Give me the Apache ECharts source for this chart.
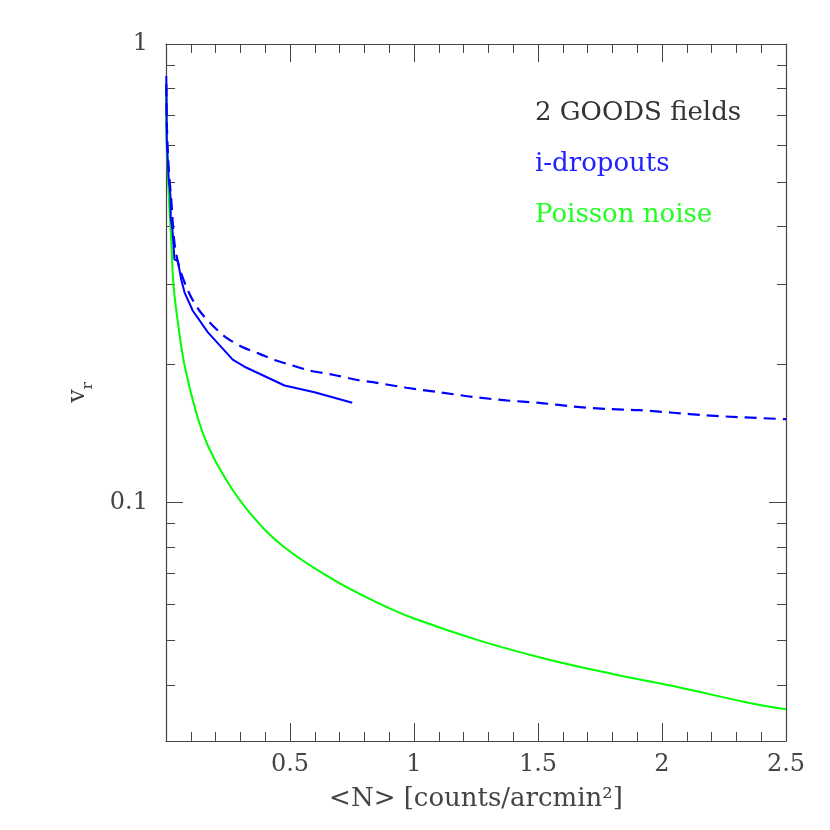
<!DOCTYPE html>
<html>
<head>
<meta charset="utf-8">
<script src="https://cdn.jsdelivr.net/npm/echarts@6/dist/echarts.min.js"></script>
<style>
  html, body { margin: 0; padding: 0; background: #fff; }
  #main { width: 830px; height: 830px; }
</style>
</head>
<body>
<div id="main"></div>
<script>
// Poisson noise curve
var poissonN = [0.001, 0.003, 0.014, 0.021, 0.030, 0.048, 0.075, 0.122, 0.169, 0.243, 0.337, 0.471, 0.673, 0.861, 0.995, 1.264, 1.533, 1.800, 2.071, 2.339, 2.5];
var poissonV = [0.797, 0.610, 0.436, 0.375, 0.299, 0.247, 0.199, 0.157, 0.133, 0.112, 0.0951, 0.0804, 0.0680, 0.0602, 0.0560, 0.0500, 0.0456, 0.0423, 0.0395, 0.0367, 0.0354];

// i-dropouts, solid line
var dropN = [0.001, 0.002, 0.003, 0.011, 0.018, 0.019, 0.027, 0.034, 0.048, 0.061, 0.075, 0.108, 0.169, 0.269, 0.323, 0.478, 0.599, 0.751];
var dropV = [0.852, 0.797, 0.620, 0.507, 0.466, 0.420, 0.388, 0.339, 0.336, 0.307, 0.287, 0.262, 0.235, 0.205, 0.197, 0.180, 0.174, 0.165];

// i-dropouts, dashed line
var dashN = [0.001, 0.004, 0.011, 0.021, 0.034, 0.054, 0.095, 0.135, 0.189, 0.243, 0.310, 0.377, 0.444, 0.511, 0.579, 0.673, 0.773, 0.834, 0.969, 1.103, 1.237, 1.372, 1.506, 1.640, 1.775, 1.909, 2.044, 2.178, 2.313, 2.5];
var dashV = [0.817, 0.652, 0.533, 0.459, 0.369, 0.325, 0.285, 0.262, 0.243, 0.229, 0.218, 0.211, 0.204, 0.199, 0.194, 0.190, 0.185, 0.183, 0.178, 0.174, 0.170, 0.167, 0.165, 0.162, 0.160, 0.159, 0.157, 0.155, 0.1535, 0.152];

// axis ticks
var xTickInterval = 0.5;
var yMajorTicks = [0.1, 1];
var yMinorTicks = [0.04, 0.05, 0.06, 0.07, 0.08, 0.09, 0.2, 0.3, 0.4, 0.5, 0.6, 0.7, 0.8, 0.9];
var yMin = 0.0302;
var yMax = 1;

var legendTexts = ['2 GOODS fields', 'i-dropouts', 'Poisson noise'];
var legendColors = ['#333333', '#2222ff', '#22ff22'];

function zip(xs, ys) {
    return xs.map(function(x, i) { return [x, ys[i]] })
}

var font = 'DejaVu Serif';
var axisColor = '#444';

function xAxisOf(pos, showLabel) {
    var ax = {
        type: 'value',
        position: pos,
        min: 0,
        max: 2.5,
        interval: xTickInterval,
        axisLine: { show: true, onZero: false, lineStyle: { color: axisColor, width: 1.2 } },
        axisTick: { show: true, inside: true, length: 18, lineStyle: { color: axisColor } },
        minorTick: { show: true, splitNumber: 5, length: 9, lineStyle: { color: axisColor } },
        splitLine: { show: false },
        minorSplitLine: { show: false },
        axisLabel: {
            show: showLabel,
            margin: 12,
            color: '#444',
            fontFamily: font,
            fontSize: 24,
            formatter: function(v) { return v === 0 ? '' : String(v) }
        }
    }
    if (showLabel) {
        ax.name = '<N> [counts/arcmin²]'
        ax.nameLocation = 'middle'
        ax.nameGap = 45
        ax.nameTextStyle = { color: '#444', fontFamily: font, fontSize: 26 }
    }
    return ax
}

function yAxisOf(pos, ticks, len, major, showLabel) {
    var ax = {
        type: 'log',
        logBase: 10,
        position: pos,
        min: yMin,
        max: yMax,
        axisLine: { show: major, onZero: false, lineStyle: { color: axisColor, width: 1.2 } },
        axisTick: { show: true, inside: true, length: len, customValues: ticks, lineStyle: { color: axisColor } },
        splitLine: { show: false },
        axisLabel: {
            show: showLabel,
            customValues: ticks,
            margin: 18,
            color: '#444',
            fontFamily: font,
            fontSize: 24,
            formatter: function(v) { return String(Math.round(v * 10) / 10) }
        }
    }
    if (showLabel) {
        ax.name = '{v|v}{r|r}'
        ax.nameLocation = 'middle'
        ax.nameGap = 70
        ax.nameTextStyle = {
            rich: {
                v: { fontFamily: font, fontSize: 24, color: '#444', lineHeight: 30, verticalAlign: 'top' },
                r: { fontFamily: font, fontSize: 15, color: '#444', lineHeight: 30, verticalAlign: 'bottom', padding: [12, 0, 0, 0] }
            }
        }
    }
    return ax
}

var chart = echarts.init(document.getElementById('main'));

var option = {
    animation: false,
    backgroundColor: '#fff',
    grid: { left: 166, top: 44, right: 44, bottom: 89, containLabel: false },
    xAxis: [xAxisOf('bottom', true), xAxisOf('top', false)],
    yAxis: [
        yAxisOf('left', yMajorTicks, 17, true, true),
        yAxisOf('left', yMinorTicks, 9, false, false),
        yAxisOf('right', yMajorTicks, 17, true, false),
        yAxisOf('right', yMinorTicks, 9, false, false)
    ],
    graphic: legendTexts.map(function(t, i) {
        return {
            type: 'text',
            left: 535,
            top: 100 + i * 51,
            style: { text: t, fill: legendColors[i], font: '26px "' + font + '"' }
        }
    }),
    series: [
        {
            name: 'Poisson noise',
            type: 'line',
            data: zip(poissonN, poissonV),
            showSymbol: false,
            smooth: 0.4,
            lineStyle: { color: '#00ff00', width: 2 }
        },
        {
            name: 'i-dropouts',
            type: 'line',
            data: zip(dropN, dropV),
            showSymbol: false,
            lineStyle: { color: '#0000ff', width: 2 }
        },
        {
            name: 'i-dropouts (dashed)',
            type: 'line',
            data: zip(dashN, dashV),
            showSymbol: false,
            smooth: 0.3,
            lineStyle: { color: '#0000ff', width: 2.2, type: [12, 7] }
        }
    ]
};

chart.setOption(option);
</script>
</body>
</html>
